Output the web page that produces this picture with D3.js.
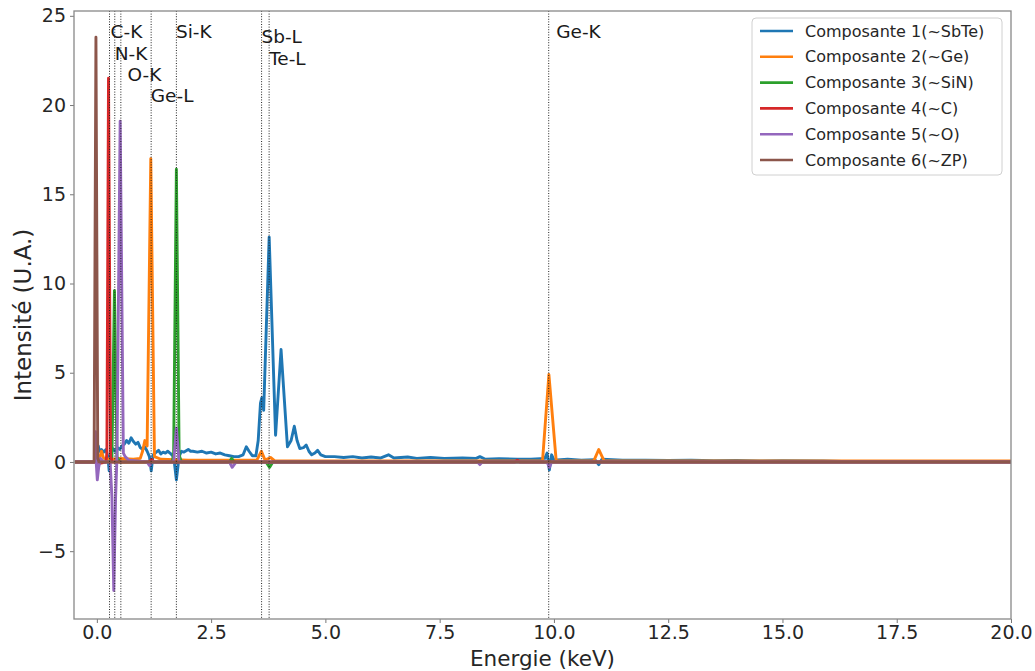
<!DOCTYPE html>
<html>
<head>
<meta charset="utf-8">
<script src="https://cdn.jsdelivr.net/npm/d3@7/dist/d3.min.js"></script>
<style>
  html, body { margin: 0; padding: 0; background: #fff; }
  svg { display: block; font-family: "DejaVu Sans", sans-serif; }
</style>
</head>
<body>
<svg id="chart" width="1035" height="671"></svg>
<script>
// ---------------- DATA ----------------
const seriesNames = [
  "Composante 1(~SbTe)", "Composante 2(~Ge)", "Composante 3(~SiN)",
  "Composante 4(~C)", "Composante 5(~O)", "Composante 6(~ZP)"
];
const seriesColors = ["#1f77b4", "#ff7f0e", "#2ca02c", "#d62728", "#9467bd", "#8c564b"];

// [energy keV, intensity U.A.]
const comp1 = [
  [-0.48, 0], [-0.05, 0], [0.0, 0.3], [0.03, 0.9], [0.06, 0.6], [0.1, 0.7], [0.15, 0.55], [0.2, 0.7],
  [0.24, 0.3], [0.27, -0.5], [0.3, 0.4], [0.35, 0.75], [0.4, 0.6], [0.45, 0.8], [0.5, 0.7],
  [0.55, 0.9], [0.6, 1.0], [0.65, 1.2], [0.7, 1.05], [0.75, 1.35], [0.8, 1.15], [0.85, 1.0],
  [0.9, 1.1], [0.95, 0.8], [1.0, 0.7], [1.05, 0.85], [1.1, 0.6], [1.15, 0.3], [1.19, -0.5],
  [1.23, 0.4], [1.3, 0.55], [1.35, 0.65], [1.4, 0.45], [1.45, 0.55], [1.5, 0.5], [1.55, 0.6],
  [1.6, 0.5], [1.68, 0.3], [1.74, -1.0], [1.8, 0.3], [1.85, 0.6], [1.9, 0.55], [2.0, 0.7],
  [2.05, 0.6], [2.1, 0.6], [2.2, 0.55], [2.3, 0.6], [2.4, 0.5], [2.5, 0.55], [2.6, 0.45],
  [2.7, 0.5], [2.8, 0.4], [2.9, 0.35], [3.0, 0.3], [3.1, 0.3], [3.2, 0.4], [3.27, 0.85],
  [3.33, 0.6], [3.4, 0.35], [3.48, 0.35], [3.53, 1.2], [3.58, 3.3], [3.61, 3.6], [3.65, 2.9],
  [3.77, 12.6], [3.91, 1.5], [4.03, 6.3], [4.17, 0.85], [4.25, 1.2], [4.32, 2.0], [4.38, 1.2],
  [4.44, 0.75], [4.52, 0.8], [4.58, 0.95], [4.64, 0.6], [4.7, 0.4], [4.77, 0.5], [4.83, 0.65],
  [4.9, 0.4], [5.0, 0.3], [5.2, 0.3], [5.4, 0.25], [5.6, 0.3], [5.8, 0.22], [6.0, 0.28],
  [6.2, 0.22], [6.38, 0.4], [6.5, 0.22], [6.8, 0.28], [7.0, 0.2], [7.3, 0.25], [7.6, 0.2],
  [8.0, 0.22], [8.3, 0.2], [8.38, 0.3], [8.5, 0.15], [8.8, 0.18], [9.2, 0.15], [9.5, 0.15],
  [9.8, 0.2], [9.85, 0.5], [9.9, -0.45], [9.95, 0.4], [10.0, 0.1], [10.3, 0.15], [10.6, 0.1],
  [10.9, 0.12], [10.98, -0.15], [11.05, 0.15], [11.5, 0.1], [12.0, 0.1], [12.5, 0.08],
  [13.0, 0.1], [13.5, 0.07], [14.0, 0.08], [14.5, 0.06], [15.0, 0.07], [15.9, 0.06],
  [16.5, 0.02], [20.0, 0.02]
];
const comp2 = [
  [-0.48, 0], [-0.05, 0], [0.0, 0.3], [0.05, 0.1], [0.1, 0.6], [0.15, 0.2], [0.3, 0.15],
  [0.5, 0.2], [0.8, 0.15], [0.95, 0.2], [1.0, 0.6], [1.05, 1.2], [1.1, 0.9], [1.18, 17.0],
  [1.26, 0.3], [1.4, 0.15], [2.0, 0.1], [3.0, 0.1], [3.5, 0.1], [3.6, 0.6], [3.68, 0.1],
  [3.8, 0.25], [3.9, 0.05], [5.0, 0.05], [9.75, 0.05], [9.89, 4.9], [10.05, 0.05],
  [10.87, 0.05], [10.98, 0.7], [11.1, 0.05], [20.0, 0.05]
];
const comp3 = [
  [-0.48, 0], [-0.05, 0], [0.0, 0.2], [0.05, 0.0], [0.3, 0.0], [0.33, 0.3], [0.385, 9.6],
  [0.44, 0.3], [0.5, 0.0], [1.65, 0.0], [1.68, 0.5], [1.74, 16.4], [1.8, 0.4], [1.85, 0.0],
  [2.9, 0.0], [2.95, 0.2], [3.0, 0.0], [3.7, 0.0], [3.78, -0.3], [3.85, 0.0], [20.0, 0.0]
];
const comp4 = [
  [-0.48, 0], [-0.05, 0], [0.0, -0.1], [0.2, 0.0], [0.22, 0.5], [0.255, 21.5], [0.3, 0.3],
  [0.34, 0.0], [1.15, 0.0], [1.2, 0.15], [1.25, 0.0], [9.15, 0.0], [9.2, 0.1], [9.25, 0.0], [20.0, 0.0]
];
const comp5 = [
  [-0.48, 0], [-0.05, 0], [-0.03, 1.7], [-0.01, -0.2], [0.01, -1.0], [0.04, -0.3], [0.08, 0.2],
  [0.15, 0.0], [0.29, 0.0], [0.33, -2.0], [0.37, -7.2], [0.41, -2.0], [0.44, 0.3], [0.51, 19.1],
  [0.58, 0.5], [0.62, 0.3], [0.7, 0.1], [1.1, 0.0], [1.15, -0.2], [1.2, 0.0], [1.68, 0.0],
  [1.74, 1.9], [1.8, 0.0], [2.9, 0.0], [2.96, -0.3], [3.05, 0.0], [8.33, 0.0], [8.38, -0.15],
  [8.43, 0.0], [9.85, 0.0], [9.9, -0.3], [9.95, 0.0], [20.0, 0.0]
];
const comp6 = [
  [-0.48, 0], [-0.06, 0], [-0.02, 23.8], [0.02, 0.2], [0.05, 0.0], [20.0, 0.0]
];
const seriesData = [comp1, comp2, comp3, comp4, comp5, comp6];

// characteristic X-ray lines (keV) and their annotations (data coordinates)
const lineNames    = ["C-K", "N-K", "O-K", "Ge-L", "Si-K", "Sb-L", "Te-L", "Ge-K"];
const lineEnergies = [0.277, 0.392, 0.525, 1.188, 1.74, 3.604, 3.769, 9.886];
const labelEnergy  = [0.30, 0.39, 0.67, 1.18, 1.73, 3.60, 3.77, 10.05];
const labelHeight  = [23.74, 22.53, 21.35, 20.17, 23.74, 23.48, 22.22, 23.74];

const xTicks = [0, 2.5, 5, 7.5, 10, 12.5, 15, 17.5, 20];
const yTicks = [-5, 0, 5, 10, 15, 20, 25];
const xLabel = "Energie (keV)";
const yLabel = "Intensité (U.A.)";

// ---------------- LAYOUT ----------------
const L = 74, R = 1011, T = 11, B = 619;
const svg = d3.select("#chart");
const x = d3.scaleLinear().domain([-0.5, 20]).range([L, R]);
const y = d3.scaleLinear().domain([-8.8, 25.27]).range([B, T]);

const plot = svg.append("g");
plot.append("clipPath").attr("id", "clip")
  .append("rect").attr("x", L).attr("y", T).attr("width", R - L).attr("height", B - T);

const line = d3.line().x(d => x(d[0])).y(d => y(d[1]));
const lines = plot.append("g").attr("clip-path", "url(#clip)");
seriesData.forEach((s, i) => {
  lines.append("path").datum(s)
    .attr("d", line)
    .attr("fill", "none")
    .attr("stroke", seriesColors[i])
    .attr("stroke-width", 2.9)
    .attr("stroke-linejoin", "round");
});

// dotted vertical lines
lineEnergies.forEach(e => {
  plot.append("line")
    .attr("x1", x(e)).attr("x2", x(e)).attr("y1", T).attr("y2", B)
    .attr("stroke", "#222").attr("stroke-width", 1)
    .attr("stroke-dasharray", "1,1.6");
});
lineNames.forEach((n, i) => {
  plot.append("text")
    .attr("x", x(labelEnergy[i])).attr("y", y(labelHeight[i]))
    .attr("font-size", 18.5).attr("fill", "#1a1a1a")
    .text(n);
});

// axes
const xAxis = d3.axisBottom(x).tickValues(xTicks).tickFormat(d3.format(".1f")).tickSize(4).tickPadding(3);
const yAxis = d3.axisLeft(y).tickValues(yTicks).tickFormat(d => d < 0 ? "\u2212" + Math.abs(d) : d).tickSize(4).tickPadding(4);
const gx = svg.append("g").attr("transform", `translate(0,${B})`).call(xAxis);
const gy = svg.append("g").attr("transform", `translate(${L},0)`).call(yAxis);
[gx, gy].forEach(g => {
  g.select(".domain").remove();
  g.selectAll(".tick line").attr("stroke", "#777");
  g.selectAll(".tick text").attr("font-size", 19).attr("fill", "#262626")
    .attr("font-family", "DejaVu Sans, sans-serif");
});

// frame
svg.append("rect").attr("x", L).attr("y", T).attr("width", R - L).attr("height", B - T)
  .attr("fill", "none").attr("stroke", "#888").attr("stroke-width", 1.3);

svg.append("text").attr("x", (L + R) / 2).attr("y", 666)
  .attr("text-anchor", "middle").attr("font-size", 21.5).attr("fill", "#262626").text(xLabel);
svg.append("text").attr("transform", `translate(31,${(T + B) / 2}) rotate(-90)`)
  .attr("text-anchor", "middle").attr("font-size", 23).attr("fill", "#262626").text(yLabel);

// legend
const lg = svg.append("g");
lg.append("rect").attr("x", 752).attr("y", 18).attr("width", 250).attr("height", 157)
  .attr("rx", 4).attr("fill", "#fff").attr("fill-opacity", 0.8)
  .attr("stroke", "#d0d0d0").attr("stroke-width", 1);
seriesNames.forEach((n, i) => {
  const yy = 31 + i * 25.8;
  lg.append("line").attr("x1", 760).attr("x2", 793).attr("y1", yy).attr("y2", yy)
    .attr("stroke", seriesColors[i]).attr("stroke-width", 2.6);
  lg.append("text").attr("x", 805).attr("y", yy).attr("dy", "0.35em")
    .attr("font-size", 16).attr("fill", "#262626").text(n);
});
</script>
</body>
</html>
